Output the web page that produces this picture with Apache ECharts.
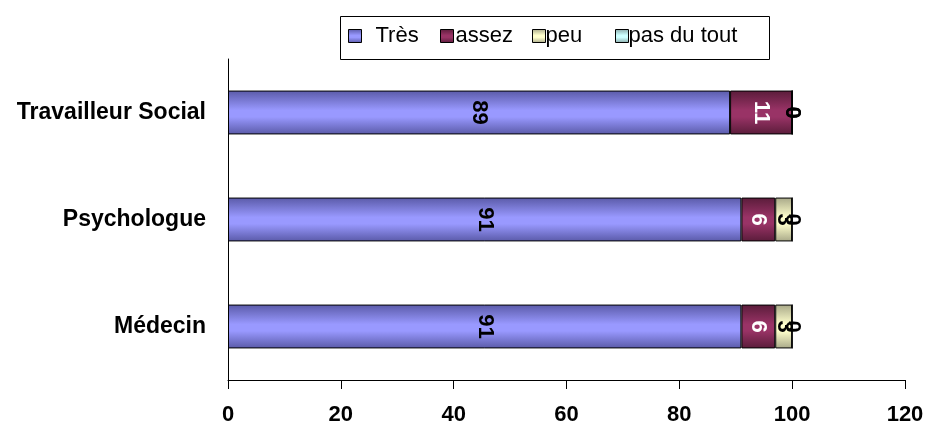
<!DOCTYPE html>
<html><head><meta charset="utf-8">
<script src="https://cdn.jsdelivr.net/npm/echarts@6/dist/echarts.min.js"></script>
<style>html,body{margin:0;padding:0;background:#fff}#c{width:930px;height:426px}</style>
</head><body><div id="c"></div>
<script>
const categories = ['Médecin', 'Psychologue', 'Travailleur Social'];
const seriesNames = ['Très', 'assez', 'peu', 'pas du tout'];
const tres = [91, 91, 89];
const assez = [6, 6, 11];
const peu = [3, 3, 0];
const pasDuTout = [0, 0, 0];
const xTicks = [0, 20, 40, 60, 80, 100, 120];

const colors = ['#9999FF', '#993366', '#FFFFCC', '#CCFFFF'];
const darks = ['#5a5aa8', '#5a1c3a', '#a8a888', '#88a8a8'];
const labelColors = ['#000', '#fff', '#000', '#000'];
const values = [tres, assez, peu, pasDuTout];
const font = '"Liberation Sans", Arial, sans-serif';
const legendLeft = [348, 440, 532, 615];
const legendPad = [9, -3, -5, -5];

function grad(i) {
  return new echarts.graphic.LinearGradient(0, 0, 0, 1, [
    {offset: 0, color: darks[i]},
    {offset: 0.45, color: colors[i]},
    {offset: 0.6, color: colors[i]},
    {offset: 1, color: darks[i]}
  ]);
}

const chart = echarts.init(document.getElementById('c'));
chart.setOption({
  animation: false,
  graphic: [{type: 'rect', left: 338, top: 14, shape: {width: 429, height: 43},
    style: {fill: 'none', stroke: '#000', lineWidth: 1}}],
  legend: seriesNames.map((n, i) => ({
    left: legendLeft[i], top: 25, padding: 0,
    itemWidth: 13, itemHeight: 13, icon: 'rect',
    textStyle: {fontFamily: font, fontSize: 22, color: '#000', padding: [0, 0, 0, legendPad[i]]},
    data: [{name: n, itemStyle: {color: grad(i), borderColor: '#000', borderWidth: 1}}]
  })),
  grid: {left: 228, right: 25, top: 59, bottom: 46},
  xAxis: {
    type: 'value', min: 0, max: 120, interval: 20,
    axisLine: {show: true, lineStyle: {color: '#000'}},
    axisTick: {show: true, length: 9, lineStyle: {color: '#000'}},
    splitLine: {show: false},
    axisLabel: {fontFamily: font, fontSize: 22, fontWeight: 'bold', color: '#000', margin: 24,
      formatter: v => xTicks.includes(v) ? String(v) : ''}
  },
  yAxis: {
    type: 'category', data: categories,
    axisLine: {show: true, lineStyle: {color: '#000'}},
    axisTick: {show: false},
    axisLabel: {fontFamily: font, fontSize: 23, fontWeight: 'bold', color: '#000', margin: 22}
  },
  series: seriesNames.map((n, i) => ({
    name: n, type: 'bar', stack: 'total', barWidth: '41%',
    data: values[i],
    itemStyle: {color: grad(i), borderColor: '#000', borderWidth: 1},
    label: {show: true, position: 'inside', rotate: -90, fontFamily: font, fontSize: 22,
      fontWeight: 'bold', color: labelColors[i]}
  }))
});
</script></body></html>
